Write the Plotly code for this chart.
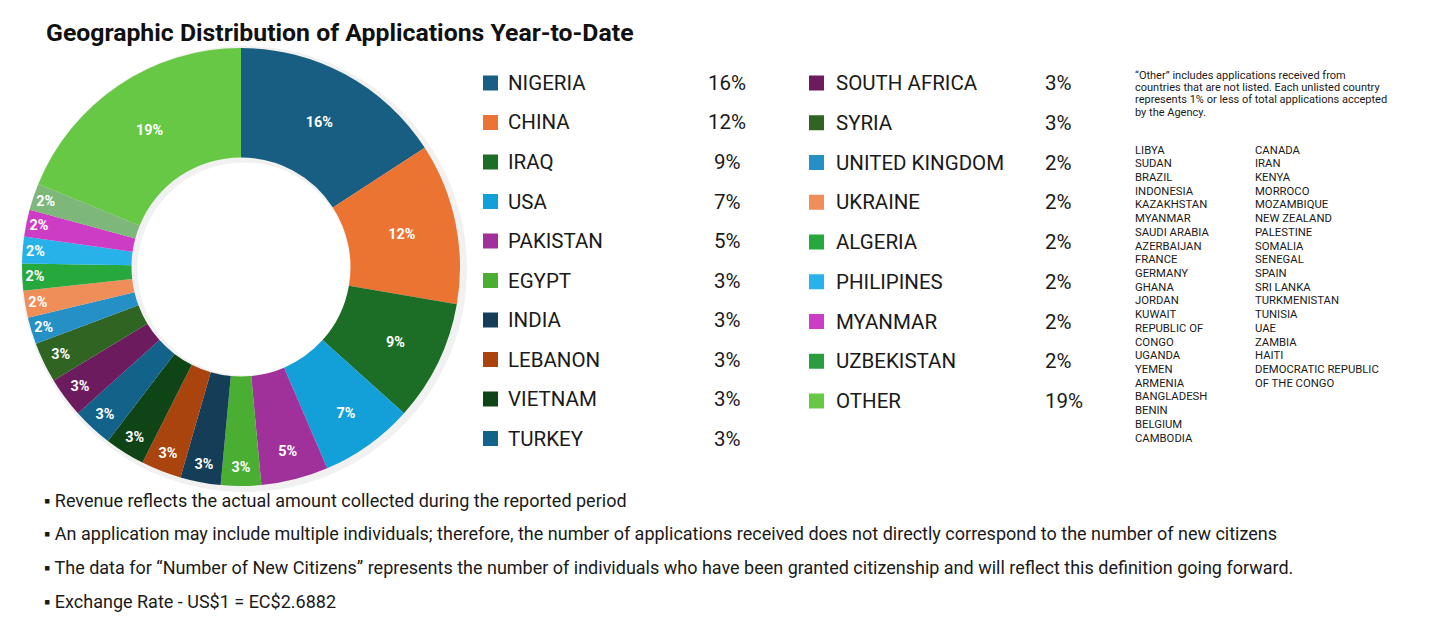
import plotly.graph_objects as go

W, H = 1456, 625

title = "Geographic Distribution of Applications Year-to-Date"

countries = ["NIGERIA", "CHINA", "IRAQ", "USA", "PAKISTAN", "EGYPT", "INDIA", "LEBANON",
             "VIETNAM", "TURKEY", "SOUTH AFRICA", "SYRIA", "UNITED KINGDOM", "UKRAINE",
             "ALGERIA", "PHILIPINES", "MYANMAR", "UZBEKISTAN", "OTHER"]
shares = [16, 12, 9, 7, 5, 3, 3, 3, 3, 3, 3, 3, 2, 2, 2, 2, 2, 2, 19]

slice_colors = ["#175E82", "#EC7432", "#1C6E26", "#139FD8", "#A0319B", "#4AAE33",
                "#143D57", "#A9440F", "#0F4417", "#13628A", "#6B1B5E", "#2F6422",
                "#2490C6", "#F08E5A", "#27A83D", "#27B3EA", "#CC3CC4", "#7DB87A", "#66C844"]
legend_colors = slice_colors[:17] + ["#2A9E3E", "#66C844"]

other_note = ["\u201cOther\u201d includes applications received from",
              "countries that are not listed. Each unlisted country",
              "represents 1% or less of total applications accepted",
              "by the Agency."]
other_col1 = ["LIBYA", "SUDAN", "BRAZIL", "INDONESIA", "KAZAKHSTAN", "MYANMAR", "SAUDI ARABIA",
              "AZERBAIJAN", "FRANCE", "GERMANY", "GHANA", "JORDAN", "KUWAIT", "REPUBLIC OF",
              "CONGO", "UGANDA", "YEMEN", "ARMENIA", "BANGLADESH", "BENIN", "BELGIUM", "CAMBODIA"]
other_col2 = ["CANADA", "IRAN", "KENYA", "MORROCO", "MOZAMBIQUE", "NEW ZEALAND", "PALESTINE",
              "SOMALIA", "SENEGAL", "SPAIN", "SRI LANKA", "TURKMENISTAN", "TUNISIA", "UAE",
              "ZAMBIA", "HAITI", "DEMOCRATIC REPUBLIC", "OF THE CONGO"]

notes = ["Revenue reflects the actual amount collected during the reported period",
         "An application may include multiple individuals; therefore, the number of applications received does not directly correspond to the number of new citizens",
         "The data for \u201cNumber of New Citizens\u201d represents the number of individuals who have been granted citizenship and will reflect this definition going forward.",
         "Exchange Rate - US$1 = EC$2.6882"]


def px(x):
    return x / W


def py(y):
    return 1 - y / H


FONT = "Roboto"
TXT = "#1a1a1a"

fig = go.Figure()

# faint shadow ring behind donut
fig.add_trace(go.Pie(
    values=[1], marker=dict(colors=["#f1f1f1"], line=dict(width=0)), hole=0.478,
    textinfo="none", hoverinfo="skip", showlegend=False, sort=False,
    domain=dict(x=[px(21), px(467)], y=[py(492), py(46)])))

fig.add_trace(go.Pie(
    labels=countries, values=shares, text=[f"{v}%" for v in shares],
    textinfo="text", textposition="inside", insidetextorientation="horizontal",
    hole=0.5, sort=False, direction="clockwise", rotation=0,
    marker=dict(colors=slice_colors, line=dict(width=0)),
    textfont=dict(family=FONT, size=15, color="white", weight="bold"),
    domain=dict(x=[px(22), px(460)], y=[py(486), py(48)]),
    showlegend=False, hovertemplate="%{label}: %{text}<extra></extra>"))

annotations = []
shapes = []


def label(text, x, y, size, anchor="left", yanchor="middle", weight="normal", color=TXT):
    annotations.append(dict(text=text, x=px(x), y=py(y), xref="paper", yref="paper",
                            xanchor=anchor, yanchor=yanchor, showarrow=False, align="left",
                            font=dict(family=FONT, size=size, color=color, weight=weight)))


label(title, 44, 32, 24.8, weight="bold", color="#111")

# custom two-column legend
cols = [dict(idx=range(0, 10), sq=483, lab=506, pct=727, pct_anchor="center", top=83, step=39.5),
        dict(idx=range(10, 19), sq=809, lab=834, pct=1043, pct_anchor="left", top=83, step=39.75)]
for c in cols:
    for r, i in enumerate(c["idx"]):
        yc = c["top"] + r * c["step"]
        shapes.append(dict(type="rect", xref="paper", yref="paper",
                           x0=px(c["sq"]), x1=px(c["sq"] + 15), y0=py(yc + 7.5), y1=py(yc - 7.5),
                           fillcolor=legend_colors[i], line=dict(width=0)))
        label(countries[i], c["lab"], yc, 20.5)
        label(f"{shares[i]}%", c["pct"], yc, 20.5, anchor=c["pct_anchor"])

for k, line in enumerate(other_note):
    label(line, 1133, 75 + k * 12.4, 11)
for k, name in enumerate(other_col1):
    label(name, 1133, 150 + k * 13.72, 11.3)
for k, name in enumerate(other_col2):
    label(name, 1253, 150 + k * 13.72, 11.3)

for k, n in enumerate(notes):
    label("\u25aa " + n, 42, 500 + k * 33.7, 18)

fig.update_layout(
    width=W, height=H, margin=dict(l=0, r=0, t=0, b=0),
    paper_bgcolor="white", plot_bgcolor="white",
    annotations=annotations, shapes=shapes,
    uniformtext=dict(minsize=13, mode="show"),
)

fig.write_html("out.html", config={"displayModeBar": False},
               post_script="document.body.style.margin='0';")
